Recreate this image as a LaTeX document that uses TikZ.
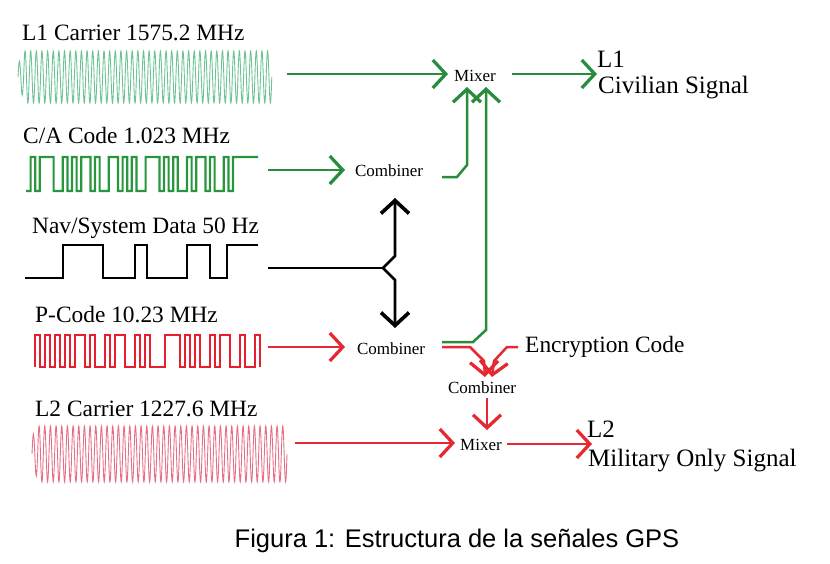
\documentclass[tikz,border=0pt]{standalone}
\usepackage{fontspec}
\setmainfont{Liberation Serif}
\newfontfamily\capfont{Liberation Sans}
\usetikzlibrary{arrows.meta}
\definecolor{gline}{RGB}{40,140,60}
\definecolor{gwave}{RGB}{40,150,60}
\definecolor{rline}{RGB}{230,40,50}
\definecolor{rwave}{RGB}{230,30,45}
\definecolor{l1col}{RGB}{110,195,150}
\definecolor{l2col}{RGB}{230,110,135}
\begin{document}
\begin{tikzpicture}[x=1pt,y=-1pt,
  lab/.style={anchor=base west,inner sep=0pt,font=\fontsize{23.4}{26}\selectfont},
  outlab/.style={anchor=base west,inner sep=0pt,font=\fontsize{25}{28}\selectfont},
  small/.style={inner sep=0pt,font=\fontsize{17}{19}\selectfont},
  tipb/.style={-{Straight Barb[length=13pt,width=28pt,line width=0pt 1.3]}},
  garr/.style={tipb,draw=gline,line width=2.5pt},
  rarr/.style={tipb,draw=rline,line width=2.5pt},
  barr/.style={tipb,draw=black,line width=2.8pt},
  carrier/.style={line width=0.9pt},
]
\useasboundingbox (0,0) rectangle (830,563);

% labels
\node[lab] (l1lab) at (22,40) {L1 Carrier 1575.2 MHz};
\node[lab] (calab) at (23,143) {C/A Code 1.023 MHz};
\node[lab] (navlab) at (32,233) {Nav/System Data 50 Hz};
\node[lab] (plab) at (35,322) {P-Code 10.23 MHz};
\node[lab] (l2lab) at (35,416) {L2 Carrier 1227.6 MHz};

\node[outlab] (l1out) at (597,67) {L1};
\node[outlab] (civ) at (598,93) {Civilian Signal};
\node[outlab] (l2out) at (587,437) {L2};
\node[outlab] (mil) at (588,466) {Military Only Signal};
\node[lab] (enc) at (525,352) {Encryption Code};

\node[small] (mix1) at (475,76) {Mixer};
\node[small] (comb1) at (389,171) {Combiner};
\node[small] (comb2) at (391,349) {Combiner};
\node[small] (comb3) at (482,388) {Combiner};
\node[small] (mix2) at (481,445) {Mixer};

\node[font=\capfont\fontsize{25.5}{28}\selectfont] (cap) at (457,541) {Figura 1: Estructura de la señales GPS};

% carriers
\draw[l1col,carrier] (18,77) sin ++(1.41,-16) cos ++(1.41,16) sin ++(1.41,18) cos ++(1.41,-18)
  \foreach \i in {1,...,44} { sin ++(1.41,-26) cos ++(1.41,26) sin ++(1.41,26) cos ++(1.41,-26) };
\draw[l2col,carrier] (32,454) sin ++(1.4167,-20) cos ++(1.4167,20) sin ++(1.4167,22) cos ++(1.4167,-22)
  \foreach \i in {1,...,44} { sin ++(1.4167,-28) cos ++(1.4167,28) sin ++(1.4167,28) cos ++(1.4167,-28) };

% C/A code
\draw[gwave,line width=2.2pt] (26,191) \foreach \b [count=\i from 0] in {0,1,0,1,1,1,0,0,1,0,1,0,1,1,0,1,0,0,1,1,0,1,0,1,0,0,1,1,1,0,1,0,1,0,0,1,0,1,1,0,1,0,0,1,0} { -- ({26+\i*4.6},{191-34*\b}) -- ({26+(\i+1)*4.6},{191-34*\b}) } -- (233,157) -- (258,157);

% Nav data
\draw[black,line width=2.6pt] (25,278) -- (63,278) -- (63,245) -- (103,245) -- (103,278) -- (135,278) -- (135,245) -- (147,245) -- (147,278) -- (187,278) -- (187,245) -- (210,245) -- (210,278) -- (227,278) -- (227,245) -- (258,245);

% P code
\draw[rwave,line width=2pt] (35,367) \foreach \b [count=\i from 0] in {1,0,1,0,1,0,1,0,1,1,0,1,0,0,1,0,1,1,0,0,1,0,1,0,0,0,1,1,1,0,1,0,1,0,0,1,0,1,1,0,0,1,0,0,1} { -- ({35+\i*5},{367-32*\b}) -- ({35+(\i+1)*5},{367-32*\b}) } -- (260,367);

% connector ends
\coordinate (l1w) at (287,74);
\coordinate (caw) at (268,170);
\coordinate (navw) at (268,268);
\coordinate (pw) at (268,347);
\coordinate (l2w) at (295,443);
\coordinate (m1a) at (467,87);
\coordinate (m1b) at (486,87);
\coordinate (navj) at (383,268);

% green
\draw[garr] (l1w) -- (448,74);
\draw[garr] (caw) -- (345,170);
\draw[garr] (442,177) -- (457,177) -- (467,165) -- (m1a);
\draw[garr] (442,342) -- (473,342) -- (486,330) -- (m1b);
\draw[garr] (512,74) -- (597,74);

% black
\draw[black,line width=2.8pt] (navw) -- (navj);
\draw[barr] (navj) -- (395,256) -- (395,198);
\draw[barr] (navj) -- (395,280) -- (395,328);

% red
\draw[rarr] (pw) -- (345,347);
\draw[rarr] (442,347) -- (470,347) -- (484,361) -- (485,377);
\draw[rarr] (518,347) -- (507,347) -- (494,361) -- (492,377);
\draw[rarr] (487,398) -- (487,430);
\draw[rarr] (l2w) -- (455,443);
\draw[rarr] (507,444) -- (592,444);
\end{tikzpicture}
\end{document}
